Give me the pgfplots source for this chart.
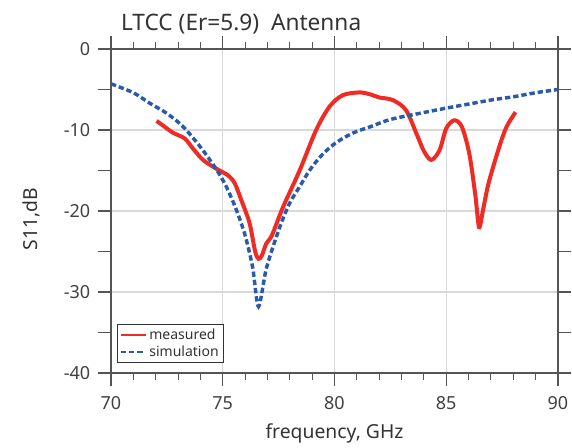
\documentclass[border=0pt]{standalone}
\usepackage{pgfplots}
\pgfplotsset{compat=1.18}
\usepackage{fontspec}
\setmainfont{Noto Sans}
\definecolor{meas}{HTML}{EE2B24}
\definecolor{sim}{HTML}{2A5BAA}
\definecolor{axc}{HTML}{555555}
\begin{document}
\begin{tikzpicture}
\begin{axis}[
  at={(0,0)}, anchor=south west,
  scale only axis, width=335.25pt, height=243pt,
  xmin=70, xmax=90, ymin=-40, ymax=0,
  xtick={70,75,...,90}, ytick={-40,-30,...,0},
  minor x tick num=4,
  extra y ticks={-35,-25,-15,-5}, extra y tick labels={},
  extra y tick style={grid=none},
  tick align=outside,
  major tick length=10pt, minor tick length=5pt,
  tick style={axc, line width=0.8pt},
  axis line style={axc, line width=1pt},
  grid=major, grid style={gray!30, line width=1pt},
  /pgf/number format/assume math mode=true,
  ticklabel style={font=\fontsize{13.5}{16}\selectfont, text=black!75},
  xticklabel style={yshift=-4pt},
  yticklabel style={xshift=-2pt},
  xlabel={frequency, GHz}, ylabel={S11,dB},
  label style={font=\fontsize{14.5}{17}\selectfont, text=black!80},
  xlabel style={yshift=-4pt},
  ylabel style={yshift=-9pt, xshift=-6pt},
  legend style={at={(0.014,0.03)}, anchor=south west, font=\fontsize{10.5}{12}\selectfont,
    draw=black!80, line width=0.6pt, inner sep=1.5pt, row sep=-1pt, text=black!80},
  legend cell align=left,
  legend image code/.code={\draw[#1, line width=1.8pt] (0cm,0cm) -- (0.65cm,0cm);},
]
\addplot[meas, line width=3pt, smooth, tension=0.5] coordinates {
(72.04,-8.87) (72.4,-9.6) (72.78,-10.35) (73.3,-11.05) (73.67,-12.3) (74.12,-13.7)
(74.7,-14.76) (75.24,-15.6) (75.54,-16.6) (75.85,-18.8) (76.2,-21.5) (76.45,-25.0)
(76.6,-25.9) (76.75,-25.5) (76.95,-24.0) (77.2,-23.0) (77.7,-19.5) (78.44,-15.0)
(79.18,-10.0) (79.78,-7.1) (80.37,-5.7) (81.12,-5.36) (81.6,-5.6) (82.0,-5.98) (82.6,-6.3)
(83.2,-7.55) (83.72,-10.8) (84.0,-12.6) (84.33,-13.7) (84.7,-12.5) (85.0,-9.8)
(85.36,-8.8) (85.7,-9.6) (86.03,-12.9) (86.3,-18.0) (86.47,-22.0) (86.65,-19.8)
(86.9,-16.5) (87.37,-12.1) (87.7,-9.6) (88.1,-7.8)
};
\addlegendentry{measured}
\addplot[sim, line width=2.6pt, dash pattern=on 4pt off 2.2pt, smooth, tension=0.5] coordinates {
(70,-4.3) (71,-5.4) (71.74,-6.7) (72.5,-7.95) (73.23,-9.6) (74,-12.1) (74.7,-14.8)
(75.16,-17.0) (75.6,-19.8) (76.0,-23.0) (76.34,-27.0) (76.6,-31.8) (76.96,-27.0)
(77.55,-22.0) (78.0,-19.0) (78.44,-17.0) (78.88,-15.0) (79.4,-13.2) (80,-11.7)
(80.8,-10.4) (81.6,-9.6) (82.5,-8.7) (83.8,-7.95) (85,-7.3) (86,-6.8) (87,-6.3)
(88,-5.9) (89,-5.4) (90,-5.0)
};
\addlegendentry{simulation}
\end{axis}
\node[anchor=base west, font=\fontsize{17}{20}\selectfont, text=black!80] at (4pt,257pt) {LTCC (Er=5.9)\ \ Antenna};
\pgfresetboundingbox
\path[use as bounding box] (-83.25pt,-55.5pt) rectangle (345.75pt,279.75pt);
\end{tikzpicture}
\end{document}
